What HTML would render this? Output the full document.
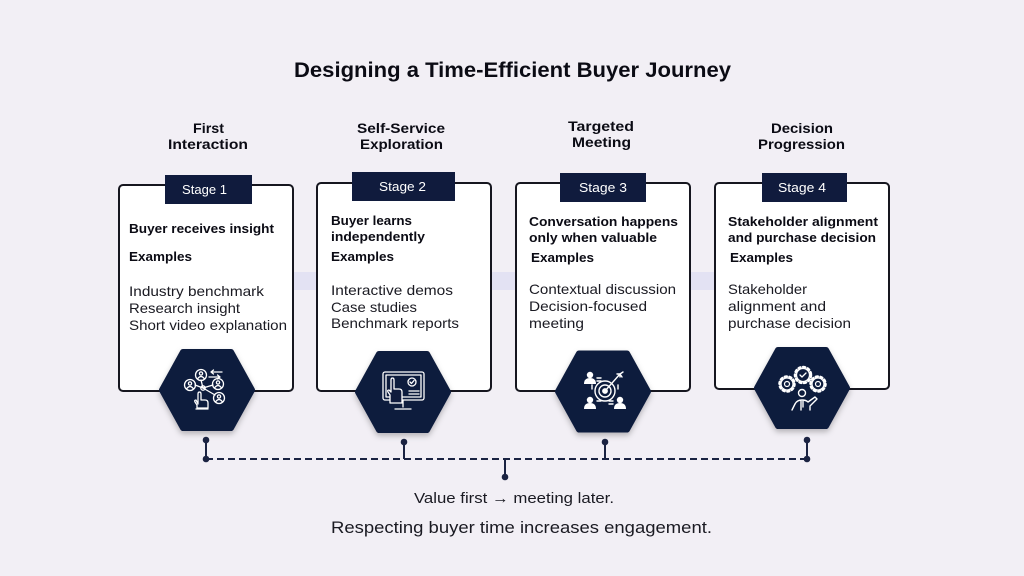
<!DOCTYPE html>
<html><head><meta charset="utf-8"><style>
html,body{margin:0;padding:0;background:#f2eff5;}
svg{display:block;}
text{font-family:"Liberation Sans",sans-serif;}
</style></head><body>
<svg width="1024" height="576" viewBox="0 0 1024 576" xmlns="http://www.w3.org/2000/svg">
<defs>
<filter id="sh" x="-20%" y="-20%" width="140%" height="150%"><feDropShadow dx="0" dy="3" stdDeviation="3" flood-color="#000" flood-opacity="0.25"/></filter>
</defs>
<rect width="1024" height="576" fill="#f2eff5"/>
<!-- title -->
<text x="294" y="77" font-size="21" font-weight="bold" fill="#0b0b14" textLength="437" lengthAdjust="spacingAndGlyphs">Designing a Time-Efficient Buyer Journey</text>

<!-- headers -->
<g font-size="14" font-weight="bold" fill="#0b0b14">
<text x="193" y="133" textLength="31" lengthAdjust="spacingAndGlyphs">First</text>
<text x="168" y="149" textLength="80" lengthAdjust="spacingAndGlyphs">Interaction</text>
<text x="357" y="133" textLength="88" lengthAdjust="spacingAndGlyphs">Self-Service</text>
<text x="360" y="149" textLength="83" lengthAdjust="spacingAndGlyphs">Exploration</text>
<text x="568" y="131" textLength="66" lengthAdjust="spacingAndGlyphs">Targeted</text>
<text x="572" y="147" textLength="59" lengthAdjust="spacingAndGlyphs">Meeting</text>
<text x="771" y="133" textLength="62" lengthAdjust="spacingAndGlyphs">Decision</text>
<text x="758" y="149" textLength="87" lengthAdjust="spacingAndGlyphs">Progression</text>
</g>

<!-- band -->
<rect x="119" y="272" width="770" height="18" fill="#e3e2f3"/>

<!-- boxes -->
<g fill="#ffffff" stroke="#16161f" stroke-width="2">
<rect x="119" y="185" width="174" height="206" rx="4"/>
<rect x="317" y="183" width="174" height="208" rx="4"/>
<rect x="516" y="183" width="174" height="208" rx="4"/>
<rect x="715" y="183" width="174" height="206" rx="4"/>
</g>

<!-- tabs -->
<g fill="#101b3d">
<rect x="165" y="175" width="87" height="29"/>
<rect x="352" y="172" width="103" height="29"/>
<rect x="560" y="173" width="86" height="29"/>
<rect x="762" y="173" width="85" height="29"/>
</g>
<g font-size="13" fill="#ffffff">
<text x="182" y="194" textLength="45" lengthAdjust="spacingAndGlyphs">Stage 1</text>
<text x="379" y="191" textLength="47" lengthAdjust="spacingAndGlyphs">Stage 2</text>
<text x="579" y="192" textLength="48" lengthAdjust="spacingAndGlyphs">Stage 3</text>
<text x="778" y="192" textLength="48" lengthAdjust="spacingAndGlyphs">Stage 4</text>
</g>

<!-- box bold text -->
<g font-size="13" font-weight="bold" fill="#0b0b14">
<text x="129" y="233" textLength="145" lengthAdjust="spacingAndGlyphs">Buyer receives insight</text>
<text x="129" y="261" textLength="63" lengthAdjust="spacingAndGlyphs">Examples</text>
<text x="331" y="225" textLength="81" lengthAdjust="spacingAndGlyphs">Buyer learns</text>
<text x="331" y="241" textLength="94" lengthAdjust="spacingAndGlyphs">independently</text>
<text x="331" y="261" textLength="63" lengthAdjust="spacingAndGlyphs">Examples</text>
<text x="529" y="226" textLength="149" lengthAdjust="spacingAndGlyphs">Conversation happens</text>
<text x="529" y="242" textLength="128" lengthAdjust="spacingAndGlyphs">only when valuable</text>
<text x="531" y="262" textLength="63" lengthAdjust="spacingAndGlyphs">Examples</text>
<text x="728" y="226" textLength="150" lengthAdjust="spacingAndGlyphs">Stakeholder alignment</text>
<text x="728" y="242" textLength="148" lengthAdjust="spacingAndGlyphs">and purchase decision</text>
<text x="730" y="262" textLength="63" lengthAdjust="spacingAndGlyphs">Examples</text>
</g>

<!-- box regular text -->
<g font-size="14" fill="#1a1a22">
<text x="129" y="296" textLength="135" lengthAdjust="spacingAndGlyphs">Industry benchmark</text>
<text x="129" y="313" textLength="111" lengthAdjust="spacingAndGlyphs">Research insight</text>
<text x="129" y="330" textLength="158" lengthAdjust="spacingAndGlyphs">Short video explanation</text>
<text x="331" y="295" textLength="122" lengthAdjust="spacingAndGlyphs">Interactive demos</text>
<text x="331" y="312" textLength="86" lengthAdjust="spacingAndGlyphs">Case studies</text>
<text x="331" y="328" textLength="128" lengthAdjust="spacingAndGlyphs">Benchmark reports</text>
<text x="529" y="294" textLength="147" lengthAdjust="spacingAndGlyphs">Contextual discussion</text>
<text x="529" y="311" textLength="118" lengthAdjust="spacingAndGlyphs">Decision-focused</text>
<text x="529" y="328" textLength="55" lengthAdjust="spacingAndGlyphs">meeting</text>
<text x="728" y="294" textLength="79" lengthAdjust="spacingAndGlyphs">Stakeholder</text>
<text x="728" y="311" textLength="98" lengthAdjust="spacingAndGlyphs">alignment and</text>
<text x="728" y="328" textLength="123" lengthAdjust="spacingAndGlyphs">purchase decision</text>
</g>

<!-- hexagons -->
<g fill="#101b3d" stroke="#101b3d" stroke-width="6" stroke-linejoin="round" filter="url(#sh)">
<polygon points="162,390 183,352 231,352 252,390 231,428 183,428"/>
<polygon points="358,392 379,354 427,354 448,392 427,430 379,430"/>
<polygon points="558,391.5 579,353.5 627,353.5 648,391.5 627,429.5 579,429.5"/>
<polygon points="757,388 778,350 826,350 847,388 826,426 778,426"/>
</g>

<!-- icon 1 -->
<g stroke="#ffffff" fill="none" stroke-width="1.3" stroke-linecap="round" stroke-linejoin="round">
<line x1="203" y1="388" x2="201" y2="380"/>
<line x1="203" y1="388" x2="195" y2="385"/>
<line x1="203" y1="388" x2="213" y2="385"/>
<line x1="203" y1="388" x2="215" y2="395"/>
<circle cx="203" cy="388" r="2.2"/>
<circle cx="201" cy="375" r="5.5"/>
<circle cx="190" cy="385" r="5.5"/>
<circle cx="218" cy="384" r="5.5"/>
<circle cx="219" cy="398" r="5.5"/>
<circle cx="201" cy="373.5" r="1.6"/><path d="M197.8,378.5 q3.2,-4 6.4,0"/>
<circle cx="190" cy="383.5" r="1.6"/><path d="M186.8,388.5 q3.2,-4 6.4,0"/>
<circle cx="218" cy="382.5" r="1.6"/><path d="M214.8,387.5 q3.2,-4 6.4,0"/>
<circle cx="219" cy="396.5" r="1.6"/><path d="M215.8,401.5 q3.2,-4 6.4,0"/>
<path d="M211,372 h11 M211,372 l2.5,-2 M211,372 l2.5,2"/>
<path d="M209,377 h11 M220,377 l-2.5,-2 M220,377 l-2.5,2"/>
<path d="M198,404 v-10 q0,-2 1.5,-2 q1.5,0 1.5,2 v6 h4 q3,0 3,3 v5 h-11 v-3 l-2,-3 q-1,-2 1,-2 z"/>
<line x1="196" y1="409" x2="208" y2="409"/>
</g>

<!-- icon 2 -->
<g stroke="#ffffff" fill="none" stroke-width="1.3" stroke-linecap="round" stroke-linejoin="round">
<rect x="383" y="372" width="41" height="28" rx="2"/>
<rect x="386" y="375" width="35" height="22"/>
<path d="M403,400 v7 M395,409 h16"/>
<circle cx="412" cy="382" r="4"/>
<path d="M410,382 l1.5,1.5 l2.5,-3"/>
<path d="M409,391 h10 M409,394 h10"/>
<path d="M390,403 v-8 l-2,-3 q-1,-2 1,-2 l2,2 v-12 q0,-2 1.5,-2 q1.5,0 1.5,2 v9 h5 q3,0 3,3 v11 z" fill="#101b3d"/>
</g>

<!-- icon 3 -->
<g stroke="#ffffff" fill="none" stroke-width="1.4" stroke-linecap="round" stroke-linejoin="round">
<circle cx="605" cy="391" r="10"/>
<circle cx="605" cy="391" r="6"/>
<circle cx="605" cy="391" r="2.2" fill="#ffffff"/>
<path d="M605,391 L620,374"/>
<path d="M617,374 l3,0 l0,3 M620,374 l3,-2 M620,374 l2,3"/>
<path d="M597,378 h4 M597,381 h4 M597,401 h4 M609,401 h4 M609,404 h4 M592,385 v4 M618,385 v4"/>
</g>
<g fill="#ffffff">
<circle cx="590" cy="375" r="3.2"/><path d="M584,384 q0,-6 6,-6 q6,0 6,6 z"/>
<circle cx="590" cy="400" r="3.2"/><path d="M584,409 q0,-6 6,-6 q6,0 6,6 z"/>
<circle cx="620" cy="400" r="3.2"/><path d="M614,409 q0,-6 6,-6 q6,0 6,6 z"/>
</g>

<!-- icon 4 -->
<g stroke="#ffffff" fill="none" stroke-linecap="round" stroke-linejoin="round">
<circle cx="787" cy="384" r="6" stroke-width="1.3"/>
<circle cx="787" cy="384" r="7.5" stroke-width="2.5" stroke-dasharray="2 2.7"/>
<circle cx="787" cy="384" r="2.5" stroke-width="1.2"/>
<circle cx="803" cy="375" r="6.5" stroke-width="1.3"/>
<circle cx="803" cy="375" r="8" stroke-width="2.5" stroke-dasharray="2 2.7"/>
<path d="M800,375 l2,2 l4,-4" stroke-width="1.3"/>
<circle cx="818" cy="384" r="6" stroke-width="1.3"/>
<circle cx="818" cy="384" r="7.5" stroke-width="2.5" stroke-dasharray="2 2.7"/>
<circle cx="818" cy="384" r="2.5" stroke-width="1.2"/>
<circle cx="802" cy="393" r="3.5" stroke-width="1.4"/>
<path d="M792,410 l3,-6 q2,-4 7,-4 q4,0 6,2 l7,-5 l2,2 l-7,7 v4 M801,401 v9 M803,401 v6" stroke-width="1.4"/>
</g>

<!-- connectors -->
<g stroke="#1b2342" stroke-width="2" fill="none">
<line x1="206" y1="459" x2="807" y2="459" stroke-dasharray="7 4"/>
<line x1="206" y1="440" x2="206" y2="459"/>
<line x1="404" y1="442" x2="404" y2="459"/>
<line x1="605" y1="442" x2="605" y2="459"/>
<line x1="807" y1="440" x2="807" y2="459"/>
<line x1="505" y1="459" x2="505" y2="476"/>
</g>
<g fill="#1b2342">
<circle cx="206" cy="440" r="3.3"/>
<circle cx="206" cy="459" r="3.3"/>
<circle cx="404" cy="442" r="3.3"/>
<circle cx="605" cy="442" r="3.3"/>
<circle cx="807" cy="440" r="3.3"/>
<circle cx="807" cy="459" r="3.3"/>
<circle cx="505" cy="477" r="3.3"/>
</g>

<!-- bottom text -->
<text x="414" y="503" font-size="15" fill="#1a1a22" textLength="200" lengthAdjust="spacingAndGlyphs">Value first → meeting later.</text>
<text x="331" y="533" font-size="17" fill="#1a1a22" textLength="381" lengthAdjust="spacingAndGlyphs">Respecting buyer time increases engagement.</text>
</svg>
</body></html>
